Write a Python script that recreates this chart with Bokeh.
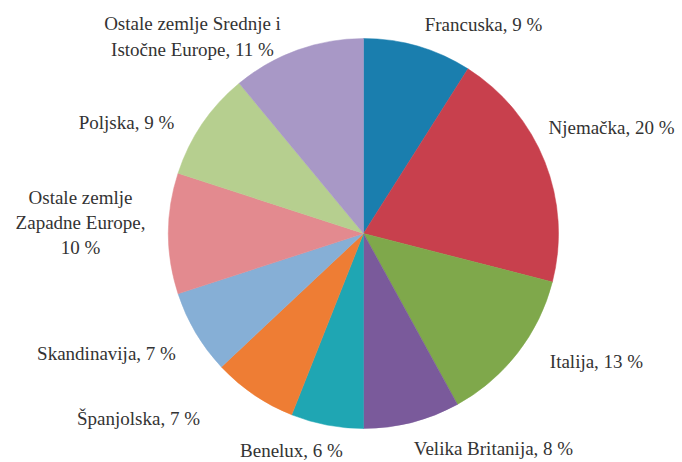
import math
from bokeh.plotting import figure
from bokeh.models import ColumnDataSource, Range1d
from bokeh.core.properties import value
from bokeh.embed import file_html
from bokeh.resources import INLINE

# Data (clockwise from 12 o'clock)
categories = ["Francuska", "Njemačka", "Italija", "Velika Britanija", "Benelux",
              "Španjolska", "Skandinavija", "Ostale zemlje\nZapadne Europe,\n",
              "Poljska", "Ostale zemlje Srednje i\nIstočne Europe,"]
shares = [9, 20, 13, 8, 6, 7, 7, 10, 9, 11]
colors = ["#1A7EAE", "#C8404D", "#7FA84B", "#7A5A9B", "#1FA6B3",
          "#EE7D34", "#86AFD6", "#E38A8F", "#B6CF8F", "#A898C6"]

# Layout: label centres in pixels (x from left, y from top)
label_px = [(483, 24), (611, 127), (596, 361), (493, 448), (291, 450),
            (138, 418), (106, 353), (80, 222), (126, 122), (192, 36)]

W, H = 682, 462
CX, CY, R = 363, 233, 195

total = float(sum(shares))
starts, ends = [], []
cum = 0.0
for s in shares:
    a0 = math.pi / 2 - 2 * math.pi * cum / total
    cum += s
    a1 = math.pi / 2 - 2 * math.pi * cum / total
    starts.append(a1)
    ends.append(a0)

labels = []
for c, s in zip(categories, shares):
    if c.endswith("\n"):
        labels.append(f"{c}{s} %")
    else:
        labels.append(f"{c} {s} %" if c.endswith(",") else f"{c}, {s} %")

src = ColumnDataSource(dict(start=starts, end=ends, color=colors))
lsrc = ColumnDataSource(dict(x=[p[0] for p in label_px],
                             y=[H - p[1] for p in label_px],
                             text=labels))

p = figure(width=W, height=H, output_backend="svg", toolbar_location=None,
           x_range=Range1d(0, W), y_range=Range1d(0, H), min_border=0)
p.axis.visible = False
p.grid.visible = False
p.outline_line_color = None
p.background_fill_color = "white"
p.border_fill_color = "white"

p.wedge(x=CX, y=H - CY, radius=R, start_angle="start", end_angle="end",
        direction="anticlock", fill_color="color", line_color="color",
        line_width=0.5, source=src)

p.text(x="x", y="y", text="text", source=lsrc, text_align="center",
       text_baseline="middle",
       text_font=value("serif"),
       text_font_size="19px", text_color="#333333", text_line_height=1.2)

open("out.html", "w").write(file_html(p, INLINE))
